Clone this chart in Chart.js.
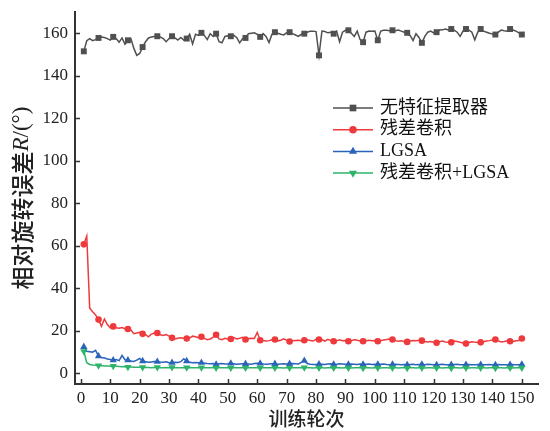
<!DOCTYPE html>
<html>
<head>
<meta charset="utf-8">
<script src="https://cdn.jsdelivr.net/npm/chart.js@4/dist/chart.umd.min.js"></script>
<style>
html,body{margin:0;padding:0;background:#fff;}
#wrap{width:550px;height:431px;position:relative;}
</style>
</head>
<body>
<div id="wrap"><canvas id="c" width="550" height="431"></canvas></div>
<script>
// ---- data ----
const EPOCHS = Array.from({length:150}, (_, i) => i + 1);
const SERIES_NAMES = ['无特征提取器', '残差卷积', 'LGSA', '残差卷积+LGSA'];
const X_TICKS = [0,10,20,30,40,50,60,70,80,90,100,110,120,130,140,150];
const Y_TICKS = [0,20,40,60,80,100,120,140,160];
const X_TITLE = '训练轮次';
const Y_TITLE_PARTS = ['相对旋转误差', 'R', '/(°)'];

const NO_EXTRACTOR = [151.5,156.5,157.5,156.5,157,157.8,158.2,158,157.5,156.8,
158.3,157.5,155.8,157.8,154.8,156.7,157.5,153,149.6,150.5,
153.5,156,157.8,158.2,158.5,158.6,158.3,157.5,156,157.5,
158.6,157.8,156.8,158,156.8,157.5,159.5,155,159.5,159,
160.2,159,157,159.8,158.5,159.8,156,155.5,158.5,158.8,
158.6,159,158,155.5,157.5,157.8,159.8,160,160.2,159.5,
158.3,159.8,158.5,155.6,159.5,160.5,160,159.5,159.2,160.3,
160.5,159.8,159.2,158.5,159.5,159.8,160.5,161,161,160.8,
149.6,161,160.8,160.2,160.5,159.8,161,156,160.5,161.4,
161.4,160,158.5,161,157,155.8,160.5,161,160.9,161,
156.7,161,161.4,161.4,161.2,161.4,161.2,161.5,161,160.5,
160.2,159,156.6,159.8,158,155.5,158.5,160.5,161,160.2,
160.5,161.5,161.6,162,161.5,162,161.5,160.5,158.5,161,
162,161.5,160.5,156.9,160.5,162,161,160.5,160,159.6,
159.4,160.5,161.5,161.2,161,162,161.5,161,160.2,159.4];

const RES_CONV = [60.7,64.6,30.7,29,27.5,25.3,22.1,25.6,23,21.4,
22.1,21.5,21.2,21.6,21,20.9,20.5,18.7,19,19.3,
18.6,18.2,17.2,18.5,19,19,18.2,17.8,18.3,17.5,
16.7,16.2,16.5,16.8,16.5,16.4,16.6,17.5,17.2,16.8,
17.2,16.5,15.8,16.2,17,18.2,16.2,15.8,16.5,16.2,
16.2,16.8,16.2,16.5,17,15.9,16.3,16.5,16.4,19.3,
15.6,15.5,15.2,15.4,15.8,15.9,15.3,15.6,16.2,15.5,
15,15.3,15.5,15.6,15.4,15.6,15.8,15.5,15.2,16,
15.9,15.8,15.2,16,15.5,15.1,15.3,15.8,15.4,15.5,
15.1,15.4,15.8,15.6,15.2,15.1,15.3,15.6,15.3,15.5,
15.1,15.4,15.7,15.9,16.2,15.9,15.4,15.1,15.3,14.9,
14.8,15.2,15.5,15.3,15.6,15.4,15,14.8,15,14.6,
14.4,14.9,15.2,14.8,14.6,14.6,15.2,15,14.6,14.3,
14,14.5,14.9,14.7,14.5,14.6,14.9,15.2,15.4,15.7,
15.9,15.3,14.8,15,15.3,15.1,15,15.3,15.5,16.4];

const LGSA = [12.5,10.4,10.2,10,10.8,8.1,7.5,7.2,6.8,6.5,
6.2,6.5,6,8.4,6.4,6.2,5.8,5.6,6.2,7,
5.8,5.5,5.2,5.4,5.6,5.5,5.3,5.2,5.5,5,
5,5.2,5.1,5.5,6.9,5.8,5.2,5,5.1,5,
5,4.8,4.6,4.5,4.6,4.2,4.5,4.6,4.4,4.5,
4.7,4.5,4.3,4.4,4.5,4.5,4.4,4.3,4.6,4.8,
4.7,4.4,4.3,4.4,4.5,4.5,4.3,4.4,4.5,4.4,
4.5,4.6,4.5,4.4,5.2,6,4.6,4.3,4.2,4.2,
4.3,4.3,4.2,4.4,4.5,4.2,4.3,4.5,4.4,4.3,
4.2,4.4,4.3,4.2,4.4,4.2,4.3,4.4,4.2,4.3,
4.2,4.3,4.4,4.2,4.1,4.2,4.3,4.2,4.1,4.2,
4,4.2,4.3,4.1,4.2,4.2,4.1,4.3,4.2,4.1,
4,4.2,4.3,4.1,4,4.1,4.2,4.3,4.1,4,
4.1,4.2,4.1,4,4.2,4.1,4,4.1,4.2,4.1,
4,4.2,4.1,4,4.1,4.1,4.2,4,4.1,4.2];

const RES_LGSA = [10.4,5,4.2,3.9,3.8,3.7,3.6,3.5,3.5,3.4,
3.4,3.3,3.2,3.1,3.1,3,3,2.9,2.9,2.9,
2.8,2.8,2.8,2.7,2.8,2.8,2.7,2.7,2.8,2.7,
2.8,2.7,2.7,2.6,2.7,2.7,2.8,2.7,2.6,2.7,
2.7,2.6,2.7,2.7,2.6,2.6,2.7,2.6,2.7,2.7,
2.6,2.7,2.6,2.6,2.7,2.6,2.7,2.6,2.6,2.7,
2.6,2.6,2.7,2.6,2.6,2.6,2.7,2.6,2.5,2.6,
2.6,2.7,2.6,2.6,2.6,2.7,2.6,2.6,2.5,2.6,
2.6,2.6,2.5,2.6,2.6,2.6,2.7,2.6,2.5,2.6,
2.6,2.5,2.6,2.6,2.6,2.5,2.6,2.6,2.5,2.6,
2.6,2.5,2.6,2.6,2.5,2.6,2.6,2.5,2.6,2.6,
2.5,2.6,2.6,2.5,2.6,2.6,2.5,2.6,2.6,2.5,
2.6,2.6,2.5,2.6,2.6,2.5,2.6,2.6,2.5,2.6,
2.6,2.5,2.6,2.6,2.5,2.6,2.6,2.5,2.6,2.6,
2.5,2.6,2.6,2.5,2.6,2.6,2.5,2.6,2.6,2.6];

// ---- styles ----
const SERIF = '"Liberation Serif", "Times New Roman", "Noto Sans CJK SC", serif';
const CJK = '"Noto Sans CJK SC", sans-serif';
const AXIS_COLOR = '#333333';
const STYLES = [
  {color:'#505050', point:'rect', radius:4.2, rotation:0, order:4},
  {color:'#EE3A3C', point:'circle', radius:3.3, rotation:0, order:3},
  {color:'#2B63BA', point:'triangle', radius:4.2, rotation:0, order:2},
  {color:'#2DB46A', point:'triangle', radius:4.2, rotation:180, order:1}
];
const VALUES = [NO_EXTRACTOR, RES_CONV, LGSA, RES_LGSA];

function markerRadius(r) {
  return (ctx) => (ctx.dataIndex % 5 === 0 || ctx.dataIndex === EPOCHS.length - 1) ? r : 0;
}

const datasets = VALUES.map((vals, k) => ({
  label: SERIES_NAMES[k],
  data: EPOCHS.map((e, i) => ({x: e, y: vals[i]})),
  borderColor: STYLES[k].color,
  backgroundColor: STYLES[k].color,
  borderWidth: 1.5,
  pointStyle: STYLES[k].point,
  pointRotation: STYLES[k].rotation,
  pointRadius: markerRadius(STYLES[k].radius),
  pointBorderWidth: 0,
  pointHoverRadius: 0,
  tension: 0,
  order: STYLES[k].order
}));

function drawMarker(ctx, style, x, y, r, rot) {
  ctx.beginPath();
  if (style === 'rect') {
    const s = Math.SQRT1_2 * r;
    ctx.rect(x - s, y - s, 2 * s, 2 * s);
  } else if (style === 'circle') {
    ctx.arc(x, y, r, 0, Math.PI * 2);
  } else {
    const a = rot ? Math.PI / 2 : -Math.PI / 2;
    for (let i = 0; i < 3; i++) {
      const ang = a + i * 2 * Math.PI / 3;
      const px = x + Math.cos(ang) * r, py = y + Math.sin(ang) * r;
      if (i === 0) ctx.moveTo(px, py); else ctx.lineTo(px, py);
    }
    ctx.closePath();
  }
  ctx.fill();
}

const decorPlugin = {
  id: 'decor',
  afterDraw(chart) {
    const {ctx, chartArea, scales} = chart;
    const xs = scales.x, ys = scales.y;
    ctx.save();
    // inward ticks
    ctx.strokeStyle = AXIS_COLOR;
    ctx.lineWidth = 1.5;
    ctx.beginPath();
    X_TICKS.forEach(v => {
      const px = Math.round(xs.getPixelForValue(v)) + 0.5;
      ctx.moveTo(px, chartArea.bottom);
      ctx.lineTo(px, chartArea.bottom - 5);
    });
    Y_TICKS.forEach(v => {
      const py = Math.round(ys.getPixelForValue(v)) + 0.5;
      ctx.moveTo(chartArea.left, py);
      ctx.lineTo(chartArea.left + 5, py);
    });
    ctx.stroke();

    // x title
    ctx.fillStyle = '#222';
    ctx.font = '500 19px ' + CJK;
    ctx.textAlign = 'center';
    ctx.textBaseline = 'middle';
    ctx.fillText(X_TITLE, (chartArea.left + chartArea.right) / 2, 419);

    // y title (rotated, italic R)
    const fonts = ['500 23px ' + CJK, 'italic 23px ' + SERIF, '23px ' + SERIF];
    let widths = Y_TITLE_PARTS.map((t, i) => { ctx.font = fonts[i]; return ctx.measureText(t).width; });
    const total = widths.reduce((a, b) => a + b, 0);
    ctx.translate(22, (chartArea.top + chartArea.bottom) / 2);
    ctx.rotate(-Math.PI / 2);
    ctx.textAlign = 'left';
    let cx = -total / 2;
    Y_TITLE_PARTS.forEach((t, i) => {
      ctx.font = fonts[i];
      ctx.fillText(t, cx, 0);
      cx += widths[i];
    });
    ctx.setTransform(1, 0, 0, 1, 0, 0);

    // legend
    const lx = chartArea.right - 205, ly = chartArea.top + 96, rowH = 21.7;
    SERIES_NAMES.forEach((name, k) => {
      const y = ly + k * rowH;
      const st = STYLES[k];
      ctx.strokeStyle = st.color;
      ctx.fillStyle = st.color;
      ctx.lineWidth = 1.5;
      ctx.beginPath();
      ctx.moveTo(lx, y);
      ctx.lineTo(lx + 40, y);
      ctx.stroke();
      drawMarker(ctx, st.point, lx + 20, y, st.radius + 0.5, st.rotation);
      ctx.fillStyle = '#111';
      ctx.font = '18px ' + SERIF;
      ctx.textAlign = 'left';
      ctx.textBaseline = 'middle';
      ctx.fillText(name, lx + 47, y);
    });
    ctx.restore();
  }
};

new Chart(document.getElementById('c'), {
  type: 'line',
  data: {datasets},
  plugins: [decorPlugin],
  options: {
    responsive: false,
    animation: false,
    events: [],
    layout: {padding: {top: 12, right: 12, left: 0, bottom: 0}},
    plugins: {legend: {display: false}, tooltip: {enabled: false}},
    scales: {
      x: {
        type: 'linear',
        min: -2,
        max: 155.5,
        afterBuildTicks: (s) => { s.ticks = X_TICKS.map(v => ({value: v})); },
        afterFit: (s) => { s.height = 47; s.paddingLeft = 0; s.paddingRight = 0; },
        grid: {display: true, drawOnChartArea: false, drawTicks: false},
        border: {display: true, color: AXIS_COLOR, width: 2},
        ticks: {font: {family: SERIF, size: 17}, color: '#222', padding: 4, maxRotation: 0, autoSkip: false}
      },
      y: {
        type: 'linear',
        min: -5,
        max: 170,
        afterBuildTicks: (s) => { s.ticks = Y_TICKS.map(v => ({value: v})); },
        afterFit: (s) => { s.width = 75; s.paddingTop = 0; s.paddingBottom = 0; },
        grid: {display: true, drawOnChartArea: false, drawTicks: false},
        border: {display: true, color: AXIS_COLOR, width: 2},
        ticks: {font: {family: SERIF, size: 17}, color: '#222', padding: 7, autoSkip: false}
      }
    }
  }
});
</script>
</body>
</html>
